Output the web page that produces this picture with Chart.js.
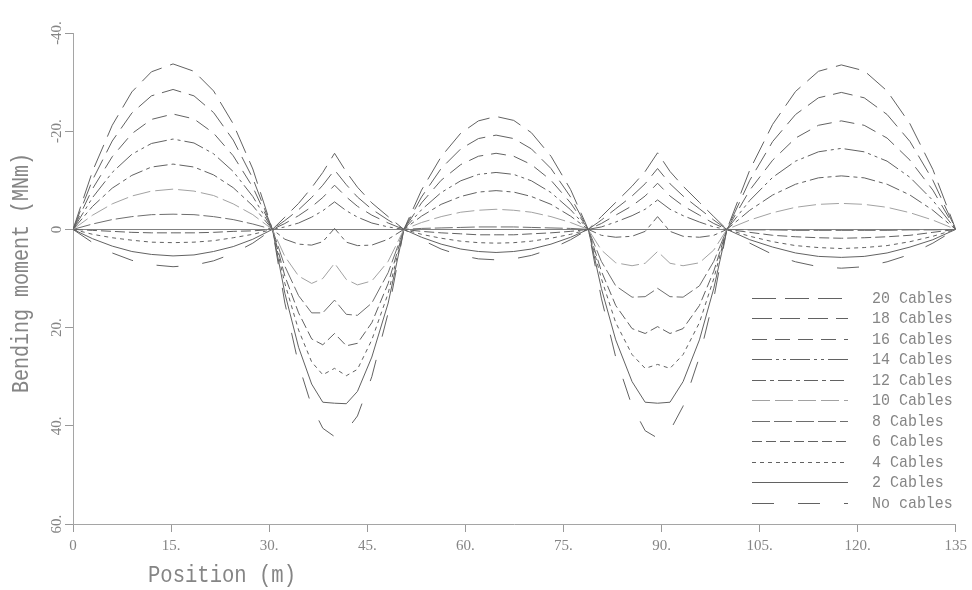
<!DOCTYPE html>
<html>
<head>
<meta charset="utf-8">
<title>Bending moment</title>
<script src="https://cdn.jsdelivr.net/npm/chart.js@4"></script>
<style>
  html, body { margin: 0; padding: 0; background: #fff; }
  canvas { display: block; }
</style>
</head>
<body>
<canvas id="momentChart" width="972" height="590"></canvas>
<script>
// positions along the girder (m)
const positions = [
  0, 3, 6, 9, 12, 15.3, 18.5, 21.5, 24.5, 27.5, 30.5,
  32.4, 34.5, 36.5, 38.2, 40.0, 41.8, 43.5, 45.7, 48.2, 50.6,
  53.3, 56.3, 59.3, 62, 64.7, 67.4, 70.1, 73.1, 76.1, 78.8,
  80.8, 83, 85.5, 87.5, 89.4, 91.3, 93.3, 95.8, 98, 100,
  103.5, 107, 110.5, 114, 117.5, 121, 124.5, 128, 131.5, 135
];

// bending moment (MNm) per cable count, one value per position
const cables20 = [
  0, -11.9, -21.2, -28.0, -32.1, -33.7, -32.2, -28.2, -21.5, -12.3, 0,
  -2.5, -5.3, -8.5, -11.6, -15.5, -11.7, -8.6, -5.4, -2.6, 0,
  -8.0, -14.8, -19.6, -22.1, -23.0, -22.2, -19.7, -14.9, -8.1, 0,
  -2.6, -5.5, -8.8, -11.8, -15.6, -11.8, -8.8, -5.5, -2.6, 0,
  -12.1, -21.4, -28.1, -32.2, -33.5, -32.3, -28.2, -21.5, -12.2, 0
];
const cables18 = [
  0, -10.1, -18.0, -23.7, -27.2, -28.5, -27.2, -23.8, -18.2, -10.4, 0,
  -1.8, -4.0, -6.5, -9.0, -12.1, -9.1, -6.6, -4.1, -1.9, 0,
  -6.6, -12.4, -16.4, -18.5, -19.2, -18.5, -16.4, -12.4, -6.6, 0,
  -1.9, -4.2, -6.8, -9.3, -12.4, -9.3, -6.8, -4.2, -1.9, 0,
  -10.0, -17.9, -23.4, -26.8, -27.9, -26.8, -23.4, -17.9, -10.0, 0
];
const cables16 = [
  0, -8.3, -14.8, -19.5, -22.4, -23.5, -22.5, -19.6, -15.0, -8.6, 0,
  -1.2, -2.8, -4.6, -6.5, -9.0, -6.6, -4.7, -2.9, -1.3, 0,
  -5.4, -10.0, -13.2, -14.9, -15.5, -14.9, -13.2, -10.0, -5.4, 0,
  -1.2, -2.9, -4.8, -6.8, -9.4, -6.8, -4.8, -2.9, -1.2, 0,
  -8.0, -14.1, -18.6, -21.2, -22.1, -21.2, -18.6, -14.1, -8.0, 0
];
const cables14 = [
  0, -6.5, -11.6, -15.3, -17.5, -18.4, -17.6, -15.4, -11.8, -6.7, 0,
  -0.5, -1.3, -2.5, -3.8, -5.6, -3.8, -2.5, -1.3, -0.5, 0,
  -4.0, -7.5, -9.9, -11.2, -11.6, -11.2, -9.9, -7.5, -4.0, 0,
  -0.5, -1.5, -2.8, -4.1, -6.0, -4.1, -2.8, -1.5, -0.5, 0,
  -5.9, -10.6, -13.9, -15.8, -16.5, -15.8, -13.9, -10.6, -5.9, 0
];
const cables12 = [
  0, -4.7, -8.4, -11.0, -12.7, -13.3, -12.7, -11.1, -8.5, -4.8, 0,
  2.0, 3.0, 3.2, 2.5, -0.2, 2.6, 3.3, 3.2, 2.0, 0,
  -2.7, -5.1, -6.7, -7.6, -7.9, -7.6, -6.7, -5.1, -2.7, 0,
  1.2, 1.6, 1.4, 0.4, -2.6, 0.4, 1.4, 1.6, 1.2, 0,
  -3.9, -7.0, -9.2, -10.5, -10.9, -10.5, -9.2, -7.0, -3.9, 0
];
const cables10 = [
  0, -2.9, -5.2, -6.8, -7.8, -8.2, -7.8, -6.9, -5.2, -3.0, 0,
  5.5, 9.5, 11.0, 10.0, 6.9, 10.2, 11.3, 10.5, 6.5, 0,
  -1.4, -2.6, -3.5, -3.9, -4.1, -3.9, -3.5, -2.6, -1.4, 0,
  4.2, 6.8, 7.4, 6.9, 4.5, 6.9, 7.4, 6.8, 4.2, 0,
  -1.9, -3.4, -4.5, -5.1, -5.3, -5.1, -4.5, -3.4, -1.9, 0
];
const cables8 = [
  0, -1.1, -2.0, -2.6, -3.0, -3.1, -3.0, -2.6, -2.0, -1.1, 0,
  7.5, 13.5, 17.0, 17.0, 14.4, 17.3, 17.5, 15.0, 8.8, 0,
  -0.2, -0.3, -0.4, -0.5, -0.5, -0.5, -0.4, -0.3, -0.2, 0,
  6.5, 11.5, 13.8, 13.7, 12.0, 13.7, 13.8, 11.5, 6.5, 0,
  0.1, 0.1, 0.2, 0.2, 0.2, 0.2, 0.2, 0.1, 0.1, 0
];
const cables6 = [
  0, 0.2, 0.4, 0.6, 0.7, 0.7, 0.7, 0.6, 0.4, 0.3, 0,
  9.5, 17.0, 22.3, 23.5, 21.2, 23.7, 23.2, 19.0, 11.0, 0,
  0.4, 0.7, 0.9, 1.1, 1.1, 1.1, 0.9, 0.7, 0.4, 0,
  8.5, 15.5, 20.2, 21.2, 19.8, 21.2, 20.2, 15.5, 8.5, 0,
  0.6, 1.2, 1.5, 1.7, 1.8, 1.7, 1.5, 1.2, 0.6, 0
];
const cables4 = [
  0, 1.0, 1.7, 2.2, 2.6, 2.7, 2.6, 2.3, 1.7, 1.0, 0,
  11.0, 20.5, 27.0, 29.6, 28.3, 29.8, 28.5, 22.5, 13.0, 0,
  1.0, 1.8, 2.4, 2.7, 2.8, 2.7, 2.4, 1.8, 1.0, 0,
  10.0, 19.0, 25.5, 28.3, 27.5, 28.3, 25.5, 19.0, 10.0, 0,
  1.4, 2.5, 3.3, 3.7, 3.9, 3.7, 3.3, 2.5, 1.4, 0
];
const cables2 = [
  0, 1.9, 3.4, 4.5, 5.1, 5.4, 5.2, 4.5, 3.5, 2.0, 0,
  13.0, 24.0, 31.5, 35.2, 35.4, 35.5, 33.0, 26.0, 15.0, 0,
  1.6, 3.0, 4.0, 4.5, 4.7, 4.5, 4.0, 3.0, 1.6, 0,
  12.0, 22.5, 31.0, 35.2, 35.4, 35.2, 31.0, 22.5, 12.0, 0,
  2.1, 3.6, 4.8, 5.5, 5.7, 5.5, 4.8, 3.6, 2.1, 0
];
const noCables = [
  0, 2.7, 4.8, 6.3, 7.2, 7.6, 7.3, 6.4, 4.9, 2.8, 0,
  15.0, 27.5, 36.0, 40.5, 42.2, 41.0, 38.0, 30.0, 17.0, 0,
  2.1, 4.0, 5.3, 6.0, 6.2, 6.0, 5.3, 4.0, 2.1, 0,
  14.0, 26.0, 36.0, 41.0, 42.5, 41.0, 36.0, 26.0, 14.0, 0,
  2.8, 5.1, 6.6, 7.6, 7.9, 7.6, 6.6, 5.1, 2.8, 0
];

const seriesLabels = ['20 Cables', '18 Cables', '16 Cables', '14 Cables', '12 Cables',
  '10 Cables', '8 Cables', '6 Cables', '4 Cables', '2 Cables', 'No cables'];
const seriesValues = [cables20, cables18, cables16, cables14, cables12,
  cables10, cables8, cables6, cables4, cables2, noCables];

const xTickValues = [0, 15, 30, 45, 60, 75, 90, 105, 120, 135];
const xTickLabels = ['0', '15.', '30.', '45.', '60.', '75.', '90.', '105.', '120.', '135'];
const yTickValues = [-40, -20, 0, 20, 40, 60];
const yTickLabels = ['-40.', '-20.', '0', '20.', '40.', '60.'];

const xTitle = 'Position (m)';
const yTitle = 'Bending moment (MNm)';

// line style per series (same order as seriesLabels)
const lineStyles = [
  { dash: [24, 9], color: '#626262' },
  { dash: [20, 8], color: '#626262' },
  { dash: [15, 8], color: '#626262' },
  { dash: [20, 4, 3, 4, 3, 4], color: '#626262' },
  { dash: [14, 4, 4, 4], color: '#626262' },
  { dash: [18, 5], color: '#a2a2a2' },
  { dash: [18, 4], color: '#6e6e6e' },
  { dash: [10, 4], color: '#626262' },
  { dash: [4, 4], color: '#626262' },
  { dash: [], color: '#626262' },
  { dash: [22, 24], color: '#626262' }
];

const TEXT_COLOR = '#858585';

// canvas text squeezed horizontally, optionally rotated
function drawText(ctx, text, x, y, size, scaleX, angle, align) {
  ctx.save();
  ctx.translate(x, y);
  ctx.rotate(angle || 0);
  ctx.scale(scaleX, 1);
  ctx.font = size + 'px "Liberation Mono", monospace';
  ctx.fillStyle = TEXT_COLOR;
  ctx.textAlign = align || 'left';
  ctx.textBaseline = 'middle';
  ctx.fillText(text, 0, 0);
  ctx.restore();
}

// axis titles
const axisTitlePlugin = {
  id: 'axisTitles',
  afterDraw(chart) {
    const ctx = chart.ctx;
    drawText(ctx, xTitle, 222, 576, 23, 0.894, 0, 'center');
    drawText(ctx, yTitle, 22, 273, 23, 0.87, -Math.PI / 2, 'center');
  }
};

// legend box in the lower right corner
const legendPlugin = {
  id: 'cableLegend',
  afterDraw(chart) {
    const ctx = chart.ctx;
    chart.data.datasets.forEach((ds, i) => {
      const y = Math.round(298 + i * 20.45) + 0.5;
      ctx.save();
      ctx.strokeStyle = ds.borderColor;
      ctx.lineWidth = 1;
      ctx.setLineDash(ds.borderDash);
      ctx.beginPath();
      ctx.moveTo(752, y);
      ctx.lineTo(848, y);
      ctx.stroke();
      ctx.restore();
      drawText(ctx, ds.label, 872, y, 17, 0.88, 0, 'left');
    });
  }
};

const datasets = seriesValues.map((values, i) => ({
  label: seriesLabels[i],
  data: positions.map((x, j) => ({ x: x, y: values[j] })),
  borderColor: lineStyles[i].color,
  borderDash: lineStyles[i].dash,
  borderWidth: 1,
  borderCapStyle: 'butt',
  pointRadius: 0,
  tension: 0,
  fill: false
}));

const tickFont = { family: '"Liberation Serif", serif', size: 15 };

new Chart(document.getElementById('momentChart').getContext('2d'), {
  type: 'line',
  data: { datasets: datasets },
  plugins: [axisTitlePlugin, legendPlugin],
  options: {
    responsive: false,
    animation: false,
    layout: { padding: { top: 33, right: 16, left: 0, bottom: 0 } },
    plugins: {
      legend: { display: false },
      tooltip: { enabled: false }
    },
    scales: {
      x: {
        type: 'linear',
        min: 0,
        max: 135,
        afterBuildTicks: (scale) => {
          scale.ticks = xTickValues.map(v => ({ value: v }));
        },
        afterFit: (scale) => { scale.height = 66; },
        ticks: {
          autoSkip: false,
          maxRotation: 0,
          padding: 5,
          color: TEXT_COLOR,
          font: tickFont,
          callback: (value) => xTickLabels[xTickValues.indexOf(value)]
        },
        grid: { drawOnChartArea: false, tickLength: 8, tickColor: '#999' },
        border: { color: '#a5a5a5', width: 1 }
      },
      y: {
        type: 'linear',
        reverse: true,
        min: -40,
        max: 60,
        afterBuildTicks: (scale) => {
          scale.ticks = yTickValues.map(v => ({ value: v }));
        },
        afterFit: (scale) => { scale.width = 73; },
        ticks: {
          minRotation: 90,
          maxRotation: 90,
          crossAlign: 'center',
          padding: -4,
          color: TEXT_COLOR,
          font: tickFont,
          callback: (value) => yTickLabels[yTickValues.indexOf(value)]
        },
        grid: {
          // only the zero moment line runs across the plot
          color: (c) => (c.tick && c.tick.value === 0 ? '#808080' : 'rgba(0,0,0,0)'),
          tickLength: 8,
          tickColor: '#999'
        },
        border: { color: '#a5a5a5', width: 1 }
      }
    }
  }
});
</script>
</body>
</html>
